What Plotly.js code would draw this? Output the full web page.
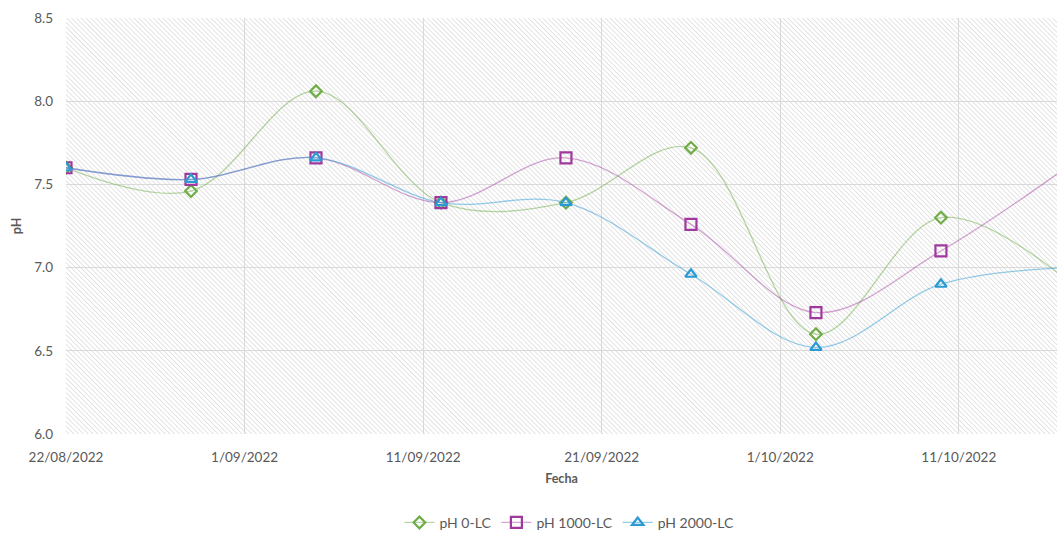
<!DOCTYPE html>
<html>
<head>
<meta charset="utf-8">
<script src="https://cdn.plot.ly/plotly-3.0.1.min.js"></script>
<style>html,body{margin:0;padding:0;background:#fff;}#chart{width:1057px;height:533px;}</style>
</head>
<body>
<div id="chart"></div>
<script>
// Sampling dates
var fechas = ['2022-08-22','2022-08-29','2022-09-05','2022-09-12','2022-09-19','2022-09-26','2022-10-03','2022-10-10','2022-10-17'];
// Series values (pH)
var ph0 = [7.60, 7.46, 8.06, 7.39, 7.39, 7.72, 6.60, 7.30, 6.93];
var ph1000 = [7.60, 7.53, 7.66, 7.39, 7.66, 7.26, 6.73, 7.10, 7.60];
var ph2000 = [7.60, 7.53, 7.66, 7.39, 7.39, 6.96, 6.52, 6.90, 7.00];
var seriesNames = ['pH 0-LC', 'pH 1000-LC', 'pH 2000-LC'];
// Tick labels
var xTickVals = ['2022-08-22','2022-09-01','2022-09-11','2022-09-21','2022-10-01','2022-10-11'];
var xTickText = ['22/08/2022','1/09/2022','11/09/2022','21/09/2022','1/10/2022','11/10/2022'];
var yTickVals = [6.0, 6.5, 7.0, 7.5, 8.0, 8.5];
var yTickText = ['6.0','6.5','7.0','7.5','8.0','8.5'];

var markerCols = ['#70ad47', '#a0399e', '#2b9ad3'];
var lineCols = ['rgba(112,173,71,0.5)', 'rgba(160,57,158,0.45)', 'rgba(43,154,211,0.5)'];
var symbols = ['diamond-open', 'square-open', 'triangle-up-open'];
var sizes = [9, 11, 10];
var ys = [ph0, ph1000, ph2000];

var traces = ys.map(function (y, i) {
  return {
    x: fechas, y: y, name: seriesNames[i], type: 'scatter', mode: 'lines+markers',
    line: {color: lineCols[i], width: 1.3, shape: 'spline', smoothing: 1},
    marker: {symbol: symbols[i], size: sizes[i], color: markerCols[i], line: {width: 2.2, color: markerCols[i]}},
    cliponaxis: true
  };
});

var svg = '<svg xmlns="http://www.w3.org/2000/svg" width="991" height="416" viewBox="0 0 991 416" preserveAspectRatio="none">' +
  '<defs><pattern id="h" width="3.4" height="3.4" patternUnits="userSpaceOnUse" patternTransform="rotate(-45)">' +
  '<line x1="0" y1="0" x2="0" y2="3.4" stroke="#c9c9c9" stroke-width="1"/></pattern></defs>' +
  '<rect width="991" height="416" fill="#ffffff"/><rect width="991" height="416" fill="url(#h)"/></svg>';
var bgUri = 'data:image/svg+xml;base64,' + btoa(svg);

var fontFam = 'Lato, "Open Sans", sans-serif';
var gray = '#595959';

var layout = {
  width: 1057, height: 533,
  margin: {l: 66, r: 0, t: 18, b: 99},
  paper_bgcolor: '#ffffff', plot_bgcolor: '#ffffff',
  font: {family: fontFam, color: gray, size: 12},
  showlegend: true,
  legend: {orientation: 'h', x: 0.508, xanchor: 'center', xref: 'paper',
           y: 0.019, yanchor: 'middle', yref: 'container', itemwidth: 30,
           font: {family: fontFam, size: 14, color: gray}},
  images: [{source: bgUri, xref: 'paper', yref: 'paper', x: 0, y: 1, sizex: 1, sizey: 1,
            xanchor: 'left', yanchor: 'top', sizing: 'stretch', layer: 'below'}],
  xaxis: {
    type: 'date', range: ['2022-08-22', '2022-10-16 12:00'],
    tickmode: 'array', tickvals: xTickVals, ticktext: xTickText,
    showgrid: true, gridcolor: '#d9d9d9', gridwidth: 1,
    zeroline: false, showline: false, ticks: '', ticklabelstandoff: 13,
    tickfont: {family: fontFam, size: 13.5, color: gray},
    title: {text: '<b>Fecha</b>', font: {family: fontFam, size: 12.5, color: gray}, standoff: 10}
  },
  yaxis: {
    range: [6.0, 8.5], tickmode: 'array', tickvals: yTickVals, ticktext: yTickText,
    showgrid: true, gridcolor: '#d9d9d9', gridwidth: 1,
    zeroline: false, showline: false, ticks: '', ticklabelstandoff: 12,
    tickfont: {family: fontFam, size: 13.5, color: gray},
    title: {text: '<b>pH</b>', font: {family: fontFam, size: 12.5, color: gray}, standoff: 9}
  }
};

Plotly.newPlot('chart', traces, layout, {displayModeBar: false, staticPlot: true});
</script>
</body>
</html>
